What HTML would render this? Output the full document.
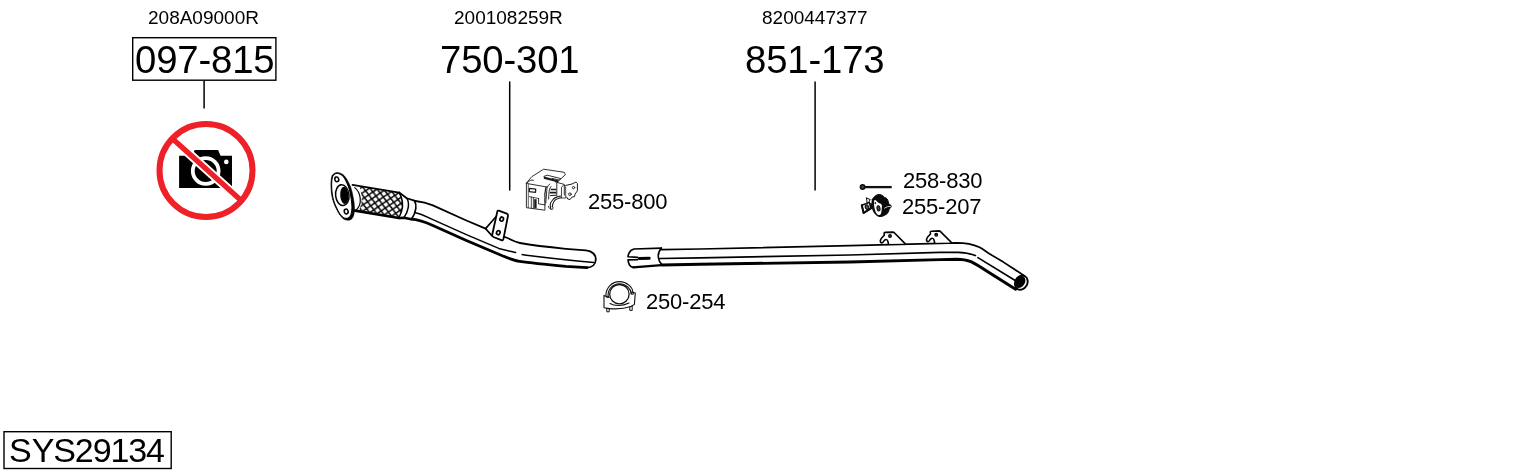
<!DOCTYPE html>
<html><head><meta charset="utf-8"><title>SYS29134</title>
<style>
html,body{margin:0;padding:0;background:#fff;}
body{width:1530px;height:474px;position:relative;overflow:hidden;font-family:"Liberation Sans",sans-serif;color:#000;}
.t{position:absolute;white-space:nowrap;line-height:1;will-change:transform;}
.oe{font-size:19px;}
.big{font-size:38.3px;letter-spacing:-0.15px;}
.sm{font-size:22px;letter-spacing:-0.2px;}
svg{position:absolute;left:0;top:0;}
</style></head><body>
<div class="t oe" style="left:148px;top:8.400px;">208A09000R</div>
<div class="t oe" style="left:454.400px;top:8.400px;">200108259R</div>
<div class="t oe" style="left:761.600px;top:8.400px;">8200447377</div>
<div class="t big" style="left:134.800px;top:40.700px;">097-815</div>
<div class="t big" style="left:439.600px;top:41px;">750-301</div>
<div class="t big" style="left:745px;top:41px;">851-173</div>
<div class="t sm" style="left:588px;top:191.300px;">255-800</div>
<div class="t sm" style="left:646px;top:291px;">250-254</div>
<div class="t sm" style="left:903px;top:169.600px;">258-830</div>
<div class="t sm" style="left:902px;top:195.600px;">255-207</div>
<div class="t" style="left:9.400px;top:432.500px;font-size:34px;">S<span style="letter-spacing:-1.1px">YS2913</span>4</div>
<svg width="1530" height="474" viewBox="0 0 1530 474" fill="none" stroke="#000" stroke-linecap="round" stroke-linejoin="round">
<defs>
<pattern id="mesh" width="7.4" height="7" patternUnits="userSpaceOnUse" patternTransform="rotate(9 360 200) translate(1.5 1)">
<path d="M-1 -0.946L8.4 7.946M8.4 -0.946L-1 7.946" stroke="#000" stroke-width="1.500" stroke-linecap="butt"/>
</pattern>
</defs>
<!-- label boxes -->
<g stroke-width="1.400" stroke-linejoin="miter">
<rect x="132.700" y="37.700" width="143.200" height="42.500"/>
<rect x="4" y="431.700" width="167.200" height="36.800"/>
</g>
<!-- leader lines -->
<g stroke-width="1.500" stroke-linecap="butt">
<line x1="204.100" y1="80.500" x2="204.100" y2="108.600"/>
<line x1="509.700" y1="81.400" x2="509.700" y2="190.600"/>
<line x1="815.100" y1="81.400" x2="815.100" y2="190.600"/>
</g>
<!-- no-photo sign -->
<g id="nophoto" stroke="none">
<path d="M179.100 155.800H192.200L194.700 149.900H218.100L220.600 155.800H232V188.100H179.100z" fill="#000"/>
<circle cx="205.700" cy="171" r="12.900" fill="none" stroke="#fff" stroke-width="3.800"/>
<circle cx="226.300" cy="161.900" r="2.300" fill="#fff"/>
<line x1="173.800" y1="139.800" x2="239.900" y2="199.400" stroke="#fff" stroke-width="9.200" stroke-linecap="butt"/>
<line x1="172" y1="138.200" x2="241.700" y2="201" stroke="#ee2028" stroke-width="5.300" stroke-linecap="butt"/>
<circle cx="206" cy="170.400" r="46.500" fill="none" stroke="#ee2028" stroke-width="6"/>
</g>
<!-- FRONT PIPE -->
<g id="front">
<!-- flex section -->
<path d="M352.5 184.8L399.200 192.600C402.600 198 403.400 206 401.600 211C400.800 214 399.600 216.500 398.300 218L355 210.6C360.5 203 360.5 193 352.5 184.8z" fill="#fff" stroke="none"/>
<path d="M359 186L399.200 192.600C402.600 198 403.400 206 401.600 211C400.800 214 399.600 216.500 398.300 218L358.5 211.2C362.6 204 362.8 194 359 186z" fill="url(#mesh)" stroke="none"/>
<path d="M352.500 184.800L399.200 192.600" stroke-width="1.800"/>
<path d="M355 210.6L399 218" stroke-width="2.6"/>
<path d="M354.8 187.6C361 192.5 362.5 204 356.5 209.6" stroke-width="1.2"/>
<path d="M399.200 192.600C402.600 198 403.400 206 401.600 211C400.800 214 399.600 216.500 398.300 218" stroke-width="1.500"/>
<!-- collar -->
<path d="M399.200 192.500L406.800 198.200L414.400 200.600" stroke-width="1.700"/>
<path d="M406.800 198.200C408.400 201 408.800 204.500 408.200 207.700C407.700 211 406.600 214 404 217.600" stroke-width="1.500"/>
<path d="M414.400 200.600C415.800 203 416.200 206 415.800 208.600C415.400 211.500 414.400 215 411.600 219.100" stroke-width="1.700"/>
<path d="M399 218L404 217.700L411.600 219.200" stroke-width="2.500"/>
<!-- flange -->
<path d="M332.3 175.3C333.3 173.6 335.4 172.7 337.1 172.5C338.8 172.4 341.1 173.4 342.6 174.3C344.1 175.2 345.0 176.6 346.0 178.0C347.0 179.4 347.8 180.9 348.7 182.8C349.7 184.8 350.7 186.9 351.5 189.7C352.3 192.4 353.0 196.1 353.6 199.3C354.1 202.5 354.6 206.0 354.5 208.9C354.5 211.8 354.0 214.6 353.3 216.4C352.5 218.3 351.6 219.3 350.1 219.9C348.7 220.4 346.2 220.3 344.6 219.6C343.0 218.9 341.9 217.5 340.5 215.8C339.1 214.0 337.7 211.4 336.4 208.9C335.1 206.4 333.8 203.4 333.0 200.7C332.1 197.9 331.7 195.4 331.3 192.4C331.0 189.5 330.8 185.7 330.9 182.8C331.1 180.0 331.3 177.0 332.3 175.3z" fill="#000" stroke-width="0.5"/>
<path d="M332.3 175.3C333.3 173.6 335.4 172.7 337.1 172.5C338.8 172.4 341.1 173.4 342.6 174.3C344.1 175.2 345.0 176.6 346.0 178.0C347.0 179.4 347.8 180.9 348.7 182.8C349.7 184.8 350.7 186.9 351.5 189.7C352.3 192.4 353.0 196.1 353.6 199.3C354.1 202.5 354.6 206.0 354.5 208.9C354.5 211.8 354.0 214.6 353.3 216.4C352.5 218.3 351.6 219.3 350.1 219.9C348.7 220.4 346.2 220.3 344.6 219.6C343.0 218.9 341.9 217.5 340.5 215.8C339.1 214.0 337.7 211.4 336.4 208.9C335.1 206.4 333.8 203.4 333.0 200.7C332.1 197.9 331.7 195.4 331.3 192.4C331.0 189.5 330.8 185.7 330.9 182.8C331.1 180.0 331.3 177.0 332.3 175.3z" transform="translate(341.800 195.800) scale(0.860 0.945) translate(-342.7 -196.4)" fill="#fff" stroke="#000" stroke-width="1.2"/>
<ellipse cx="342.300" cy="195.200" rx="6.700" ry="10.400" transform="rotate(-6 342.3 195.2)" fill="#fff" stroke-width="1.5"/>
<ellipse cx="344.300" cy="195.400" rx="4.100" ry="8.600" transform="rotate(-4 344.3 195.4)" fill="#000" stroke="none"/>
<ellipse cx="336.8" cy="179.3" rx="1.9" ry="2.4" transform="rotate(-20 336.8 179.3)" stroke-width="1.5"/>
<ellipse cx="346.2" cy="211.5" rx="1.9" ry="2.4" transform="rotate(-20 346.2 211.5)" stroke-width="1.5"/>
<!-- pipe body -->
<path d="M415.400 201C420 201.500 426 202.500 432.900 205.400L465.800 220.200L485.600 228.600" stroke-width="1.800"/>
<path d="M502.6 236.2L507.5 238C512 240.2 516 242.2 520 243C530 244.8 549.4 247.2 565.8 248.8L586 250.4C592.5 251 596 255 595.8 259.5C595.6 264.5 592 267.6 587 267.7" stroke-width="1.8"/>
<path d="M411.600 219.200C416 219.400 421 220.400 432.900 225.500L465.800 240.200L498.800 254.200C508 258.200 514 260.600 519.800 261.400C530 262.800 549.400 264.800 565.800 266.400L587 267.7" stroke-width="2.8"/>
<path d="M414.600 212.500C418 213 423 215 432.900 219.600L465.800 234.400L498.800 248.400L515.600 252.600" stroke-width="1.5"/>
<path d="M522.2 254.600C535 256.200 560 259.400 593.800 262.500" stroke-width="1.5"/>
<!-- bracket -->
<path d="M496.8 215.800L485.600 228.600L491.600 235.400" stroke-width="1.6"/>
<path d="M497.300 211.600C497.600 210.600 498.400 210.400 499.400 210.800L506.800 213.600C507.800 214 508.200 214.800 508 215.800L503.400 239.200C503.200 240.200 502.400 240.600 501.400 240.200L493.400 237C492.400 236.600 492 235.800 492.200 234.800z" fill="#fff" stroke-width="1.8"/>
<ellipse cx="501.700" cy="219.100" rx="1.700" ry="2.100" transform="rotate(25 501.7 219.1)" stroke-width="1.700"/>
<ellipse cx="498.300" cy="232.700" rx="1.700" ry="2.100" transform="rotate(25 498.3 232.7)" stroke-width="1.700"/>
</g>
<!-- REAR PIPE -->
<g id="rear">
<path d="M661.4 248.1L634 249C631.6 249.6 629.8 251 628.9 253.4C628.3 254.8 628 255.9 628 256.8L637.7 257.4M637.7 259.8L628 259.9C628.2 262 628.600 263.600 629.500 265C630.400 266.400 631.800 267.300 633.300 267.400" stroke-width="1.600"/>
<path d="M633.300 267.400L661.400 265.100" stroke-width="2.300"/>
<path d="M661.400 248.100C658.800 251 658 254.800 658.400 257.600C658.800 260.600 660 263 662.100 264.900" stroke-width="1.600"/>
<path d="M639.300 258.400L649.200 258.300" stroke-width="3"/>
<path d="M661.700 249.600L700 249L850 245.600L940 243.400L956.500 242.800C964 242.800 972 243.800 979.500 247.200C983 249 986 251.600 989.400 253.800L1003.400 262.100L1023.500 275.200" stroke-width="1.700"/>
<path d="M662.100 265L700 264.300L850 262L940 259.600L956.500 259.200C962 259.200 967 260 971 261.600C975 263.400 980 266.600 989.400 272.700L1015.600 289.300" stroke-width="2.900"/>
<path d="M659.900 258.500L700 257.800L850 255L940 252.300L958 252.300C964 252.400 970 253.400 975.400 255.500" stroke-width="1.700"/>
<path d="M977.900 257.600L1014.800 280.300" stroke-width="1.700"/>
<!-- end ellipse -->
<ellipse cx="1021.300" cy="282.600" rx="6" ry="7.400" transform="rotate(31 1021.3 282.6)" fill="#fff" stroke-width="1.900"/>
<ellipse cx="1020.300" cy="282" rx="4.600" ry="6.300" transform="rotate(31 1020.3 282)" fill="#000" stroke="none"/>
<!-- hooks -->
<g stroke-width="1.600">
<path d="M888.400 243.700L887.900 241.400C887.600 240.200 886.900 239.500 886.100 239.500C885.200 239.500 884.600 240.200 884 240.800C883.400 241.800 882.600 242.900 881.900 242.900C881 242.900 880.300 241.900 880.300 240.800C880.400 239.600 881.200 238.600 881.900 237.700L884.300 235.200L884.100 233.300C884.100 232.700 884.500 232.400 885 232.400L893 232.100C893.500 232.100 893.900 232.400 894.300 232.800L905.100 243.600" fill="#fff"/>
<circle cx="890" cy="236" r="1.300" stroke-width="1.300" fill="#666"/>
</g>
<g transform="translate(46.200 -1.200)" stroke-width="1.600">
<path d="M888.400 243.700L887.900 241.400C887.600 240.200 886.900 239.500 886.100 239.500C885.200 239.500 884.600 240.200 884 240.800C883.400 241.800 882.600 242.900 881.900 242.900C881 242.900 880.300 241.900 880.300 240.800C880.400 239.600 881.200 238.600 881.900 237.700L884.300 235.200L884.100 233.300C884.100 232.700 884.500 232.400 885 232.400L893 232.100C893.500 232.100 893.900 232.400 894.300 232.800L905.100 243.600" fill="#fff"/>
<circle cx="890" cy="236" r="1.300" stroke-width="1.300" fill="#666"/>
</g>

</g>
<!-- 255-800 bracket -->
<g id="p255800" stroke="#1a1a1a" stroke-width="0.9">
<path d="M526.400 183L531.800 176.700L543.600 169.200L564.300 172.300L565.400 174.700L559.400 180.100L552 178.400"/>
<path d="M526.400 183L526.400 207.700L544.900 210.200L544.900 204.800L538.600 203.900L538.600 198.500" />
<path d="M528.300 184V207.600" stroke-width="0.700"/>
<path d="M526.900 183.200C529 180.500 531.500 179.500 533.400 180.200M527.500 183.600L546.300 186.900"/>
<path d="M529.500 188.400L535.700 189.200L535.500 192.300L529.300 191.600z" stroke-width="1.300"/>
<path d="M529.300 196.600L538.600 198.500M531.300 197.200V207.800M533.400 198V208.500" stroke-width="0.800"/>
<path d="M535.400 199.200V208.400" stroke-width="2.400" stroke-linecap="butt"/>
<path d="M543.900 177.700L558.400 181.500" stroke-width="2.300" stroke-linecap="butt"/>
<path d="M543.900 176.400L547.300 175.200L560.800 178.600L558.400 181"/>
<path d="M546.300 186.900C545 189 545.600 191 545 193C544.400 195 545.400 197 544.900 199C544.500 201 545.400 203 544.900 204.800" stroke-width="1.200"/>
<path d="M549.700 184C547.400 186 546.800 188 546.800 190.300L545.800 202.900M551 186.500C549.400 188.500 549 191 548.900 194L548.600 199"/>
<path d="M550.700 189.500L556.500 189.500M549.700 192.700L556.500 192.700" stroke-width="1.700" stroke-linecap="butt"/>
<path d="M550.500 195.600L556 195.200" stroke-width="1"/>
<path d="M555.500 182L564.300 184.400L564.300 195.100M556.800 183V196"/>
<path d="M560.400 196.100C556.500 196.800 553.800 198.200 552.600 200C551 202 550.200 203.500 550.200 204.800L550.700 208.700M561.500 197.800C557.500 198.400 555 199.800 554 201.500C552.800 203.400 552.400 205 552.400 206.600" stroke-width="1.100"/>
<path d="M548.500 206.500C549 208.500 550.500 209.500 552.400 209.300C553.400 208.800 553.400 207.400 552.400 206.600" stroke-width="1"/>
<path d="M561.800 186.900L563.700 185L565.700 186.900L565.700 198L561.800 198z" stroke-width="0.800"/>
<path d="M565.700 185.400L572 184L575.900 182L577.400 183.500L577.400 190.800L575 194.200L574.500 196.600L572 197.100L570.100 199.500L567.700 199L566.700 197.100" stroke-width="1"/>
<circle cx="573.500" cy="187.600" r="1.200"/>
<circle cx="569.900" cy="194.200" r="1.300"/>
</g>
<!-- 250-254 clamp -->
<g id="p250254" stroke="#111" stroke-width="1.100">
<path d="M605.900 295.500C605.900 287.500 612 281.600 619.400 281.600C626.800 281.600 632.900 287.500 632.900 292.500"/>
<path d="M608 296C608 289 613 283.700 619.400 283.700C625.800 283.700 630.800 288.600 631.200 293.500"/>
<circle cx="619.400" cy="294.200" r="9.700" stroke-width="1.300"/>
<path d="M604 295.400L609 297.600M604 295.400L604 307.700L609.400 308.600M635.300 293L631.500 292.100M635.300 293L634.400 304.400L631 306.500"/>
<path d="M609.400 308.600C616 309.200 626 308.200 631 306.500M610 303.500C614 306 622 306.500 629 303"/>
<path d="M606.800 308.200V311.800h2.400V308.600M629.800 306.900V310.400h2.400V306" stroke-width="1"/>
<path d="M606.200 296.200a1.200 1 0 1 0 2.400 0M631 293.200a1.200 1 0 1 0 2.400 0"/>
</g>
<!-- 258-830 bolt -->
<g id="p258830" stroke="#111">
<path d="M864.500 187.100L891.700 187.100" stroke-width="2.300" stroke-linecap="butt"/>
<circle cx="862.600" cy="187.100" r="2.200" stroke-width="1.600" fill="#444"/>
</g>
<!-- 255-207 rubber -->
<g id="p255207" stroke="#0a0a0a" stroke-width="1">
<path d="M872.300 199.500C873.500 197 876 195 878.200 194.600C880.500 194 883 195.600 884.500 197.400C886.500 197.600 888 199.500 888.300 202C888.600 203.400 889 204.400 890 204.800C891.400 205.200 891.600 206.800 890.600 207.600C889.600 208.400 889 209.500 888.600 211C888 213 887.200 214 886 214.400C884.500 215.400 882.500 216.400 880 216.600C877.500 216.600 875.500 214.500 874.400 212.800C873 211 872.400 208.500 872.100 205.800C871.900 203.500 871.900 201 872.300 199.500z" fill="#0a0a0a"/>
<path d="M874.300 200.200C875.200 199.600 876.500 200.800 877.500 201.900C878.800 203.200 880.200 203.100 881 203.900C882 204.900 882.100 205.900 881.900 206.900C881.700 208.400 881.900 209.600 881.500 210.900C881.100 212.400 881.300 213.500 880.700 214.300C880 215.200 878.900 215.200 878 214.800C876.800 214.200 875.900 212.800 875.400 211.300C874.800 209.600 874.400 208 874.200 206.500C874 204.500 873.800 201.300 874.300 200.200z" fill="#fff" stroke="none"/>
<ellipse cx="878.500" cy="208.400" rx="1.500" ry="2.600" transform="rotate(-8 878.5 208.4)" fill="#444" stroke-width="1.100"/>
<ellipse cx="875.300" cy="203.200" rx="0.700" ry="1.100" fill="#0a0a0a" stroke="none"/>
<path d="M884.500 208.200C886 207 888.500 206.200 890.400 206.400" stroke="#fff" stroke-width="0.800"/>
<path d="M861.800 205.300L869.300 202.400L870.900 208.400L863.600 213z" fill="#fff" stroke-width="1.500"/>
<path d="M861.800 205.300L863.600 213L870.900 208.400" stroke-width="2" fill="none"/>
<ellipse cx="867" cy="207.200" rx="1.700" ry="2.300" transform="rotate(-20 867 207.2)" fill="#555" stroke-width="1.100"/>
<path d="M866.400 198L870.200 199.600L868.600 202.500M866.400 198L867.200 203" stroke-width="1"/>
<path d="M870.800 203.500L872.400 204.200L872.400 208L871.200 208.600z" fill="#0a0a0a" stroke-width="0.800"/>
</g>
</svg>
</body></html>
